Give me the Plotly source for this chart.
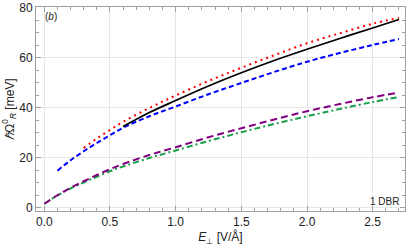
import plotly.graph_objects as go

# --- data ---
x_red = [0.3, 0.4, 0.5, 0.6, 0.8, 1.0, 1.25, 1.5, 1.75, 2.0, 2.25, 2.5, 2.7]
y_red = [23.8, 27.6, 31.0, 34.3, 39.8, 44.8, 50.6, 55.9, 60.9, 65.7, 69.7, 73.5, 75.9]

x_black = [0.6, 0.8, 1.0, 1.25, 1.5, 1.75, 2.0, 2.25, 2.5, 2.7]
y_black = [32.4, 38.0, 42.8, 48.6, 53.9, 58.8, 63.3, 67.6, 71.8, 75.2]

x_blue = [0.1, 0.2, 0.3, 0.4, 0.5, 0.6, 0.8, 1.0, 1.25, 1.5, 1.75, 2.0, 2.25, 2.5, 2.7]
y_blue = [14.7, 18.9, 22.5, 25.8, 28.9, 31.9, 36.5, 40.4, 45.3, 49.8, 54.2, 58.3, 61.8, 65.0, 67.4]

x_low = [0.0, 0.1, 0.2, 0.3, 0.4, 0.5, 0.6, 0.8, 1.0, 1.25, 1.5, 1.75, 2.0, 2.25, 2.5, 2.7]
y_purple = [1.5, 4.9, 7.9, 10.5, 13.0, 15.3, 17.4, 21.0, 24.1, 28.1, 31.7, 35.2, 38.5, 41.4, 44.1, 46.0]
y_green = [1.5, 4.8, 7.6, 10.0, 12.3, 14.5, 16.4, 19.8, 22.8, 26.6, 30.1, 33.4, 36.5, 39.4, 42.2, 44.2]

x_ticks = [0.0, 0.5, 1.0, 1.5, 2.0, 2.5]
x_ticklabels = ["0.0", "0.5", "1.0", "1.5", "2.0", "2.5"]
y_ticks = [0, 20, 40, 60, 80]
y_ticklabels = ["0", "20", "40", "60", "80"]

fig = go.Figure()
fig.add_trace(go.Scatter(x=x_low, y=y_green, mode="lines", line_shape="spline",
                         line=dict(color="#1a9e4a", width=2, dash="6px,3px,2px,3px")))
fig.add_trace(go.Scatter(x=x_low, y=y_purple, mode="lines", line_shape="spline",
                         line=dict(color="#800080", width=2, dash="7px,4px")))
fig.add_trace(go.Scatter(x=x_blue, y=y_blue, mode="lines", line_shape="spline",
                         line=dict(color="#0000ff", width=2, dash="5px,3px")))
fig.add_trace(go.Scatter(x=x_black, y=y_black, mode="lines", line_shape="spline",
                         line=dict(color="black", width=1.8)))
fig.add_trace(go.Scatter(x=x_red, y=y_red, mode="lines", line_shape="spline",
                         line=dict(color="#ff0000", width=2, dash="2px,4px")))

axis_common = dict(
    showline=True, linecolor="#a0a0a0", linewidth=1, mirror="ticks",
    ticks="inside", ticklen=5, tickcolor="#a0a0a0", tickwidth=1,
    showgrid=True, gridcolor="#e6e6e6", gridwidth=1, zeroline=False,
    ticklabeloverflow="allow",
    tickfont=dict(family="Liberation Sans, Arial", size=12, color="#222"),
)

fig.update_xaxes(
    range=[-0.063, 2.746], tickvals=x_ticks, ticktext=x_ticklabels,
    minor=dict(dtick=0.1, ticks="inside", ticklen=3, tickcolor="#a0a0a0", showgrid=False),
    title=dict(text="<i>E</i><sub>⊥</sub> [V/Å]", standoff=4,
               font=dict(family="Liberation Sans, Arial", size=12, color="#222")),
    **axis_common)
fig.update_yaxes(
    range=[-1.4, 80.2], tickvals=y_ticks, ticktext=y_ticklabels,
    minor=dict(dtick=5, ticks="inside", ticklen=3, tickcolor="#a0a0a0", showgrid=False),
    title=dict(text="<i>ℏ</i>Ω<sup>0</sup><sub><i>R</i></sub> [meV]", standoff=2,
               font=dict(family="Liberation Sans, Arial", size=12, color="#222")),
    **axis_common)

fig.add_annotation(x=0.02, y=0.955, xref="paper", yref="paper", text="(<i>b</i>)",
                   showarrow=False, xanchor="left", yanchor="middle",
                   font=dict(family="Liberation Sans, Arial", size=10, color="#222"))
fig.add_annotation(x=0.99, y=0.045, xref="paper", yref="paper", text="1 DBR",
                   showarrow=False, xanchor="right", yanchor="middle",
                   font=dict(family="Liberation Sans, Arial", size=10, color="#222"))

fig.update_layout(
    width=407, height=247, showlegend=False,
    margin=dict(l=36, r=1, t=4, b=36),
    paper_bgcolor="white", plot_bgcolor="white",
)

fig.write_html("out.html", config={"displayModeBar": False},
               post_script="document.body.style.margin='0';document.body.style.overflow='hidden';")
